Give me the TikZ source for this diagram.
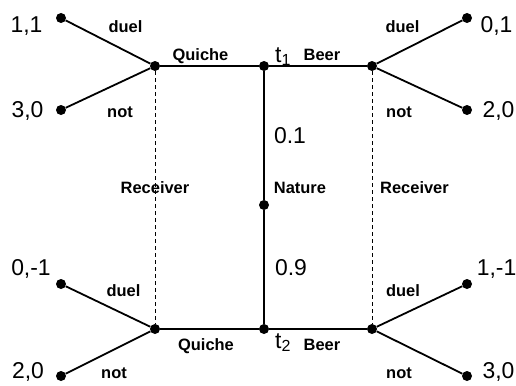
\documentclass[tikz,border=0pt]{standalone}
\usepackage{fontspec}
\setmainfont{Liberation Sans}
\usetikzlibrary{positioning}

\begin{document}
\begin{tikzpicture}[x=1bp, y=1bp, dot/.style = {circle, fill, inner sep=0pt, minimum size=10bp}, move/.style = {line width=1.8bp}, info/.style = {line width=0.9bp, dash pattern=on 4bp off 3bp}, act/.style = {font=\fontsize{16.5}{19}\selectfont\bfseries, inner sep=0pt, anchor=base}, pay/.style = {font=\fontsize{23}{26}\selectfont, inner sep=0pt, anchor=base}]

    \useasboundingbox (0,0) rectangle (516,385);

    % decision nodes
    \node[dot] (nat) at (264,180) {};
    \node[dot] (t1) at (264,319) {};
    \node[dot] (t2) at (264,56) {};
    \node[dot] (rq1) at (155,319) {};
    \node[dot] (rb1) at (372,319) {};
    \node[dot] (rq2) at (155,56) {};
    \node[dot] (rb2) at (372,56) {};

    % end nodes
    \node[dot] (q1d) at (61,367) {};
    \node[dot] (q1n) at (61,275) {};
    \node[dot] (b1d) at (467,367) {};
    \node[dot] (b1n) at (467,275) {};
    \node[dot] (q2d) at (61,101) {};
    \node[dot] (q2n) at (61,9) {};
    \node[dot] (b2d) at (467,101) {};
    \node[dot] (b2n) at (467,9) {};

    % moves
    \draw[move] (t1) -- (nat) -- (t2);
    \draw[move] (rq1) -- (t1) -- (rb1);
    \draw[move] (rq2) -- (t2) -- (rb2);
    \draw[move] (q1d) -- (rq1) -- (q1n);
    \draw[move] (b1d) -- (rb1) -- (b1n);
    \draw[move] (q2d) -- (rq2) -- (q2n);
    \draw[move] (b2d) -- (rb2) -- (b2n);

    % information sets
    \draw[info] (rq1) -- (rq2);
    \draw[info] (rb1) -- (rb2);

    % labels
    \node[act] (lrecl) at (155,192) {Receiver};
    \node[act] (lrecr) at (414.5,192) {Receiver};
    \node[act] (lnat) at (300,192) {Nature};
    \node[pay] (lp1) at (290,242) {0.1};
    \node[pay] (lp2) at (291,110) {0.9};
    \node[pay, anchor=base west] (lt1) at (275,323) {t\textsubscript{1}};
    \node[pay, anchor=base west] (lt2) at (275,37) {t\textsubscript{2}};
    \node[act] (lq1) at (200.5,325) {Quiche};
    \node[act] (lb1) at (322,325) {Beer};
    \node[act] (lq2) at (206,35) {Quiche};
    \node[act] (lb2) at (322,35) {Beer};
    \node[act] (ld1) at (125.5,353) {duel};
    \node[act] (ln1) at (120,268) {not};
    \node[act] (ld2) at (402.5,353) {duel};
    \node[act] (ln2) at (399,268) {not};
    \node[act] (ld3) at (123.5,89) {duel};
    \node[act] (ln3) at (114,7) {not};
    \node[act] (ld4) at (403,89) {duel};
    \node[act] (ln4) at (399,7) {not};

    % payoffs
    \node[pay] (pq1d) at (26.5,353) {1,1};
    \node[pay] (pq1n) at (27.5,268) {3,0};
    \node[pay] (pb1d) at (496.5,353) {0,1};
    \node[pay] (pb1n) at (498.5,268) {2,0};
    \node[pay] (pq2d) at (31,110) {0,-1};
    \node[pay] (pq2n) at (28,7) {2,0};
    \node[pay] (pb2d) at (496.5,110) {1,-1};
    \node[pay] (pb2n) at (498.5,7) {3,0};

\end{tikzpicture}
\end{document}
